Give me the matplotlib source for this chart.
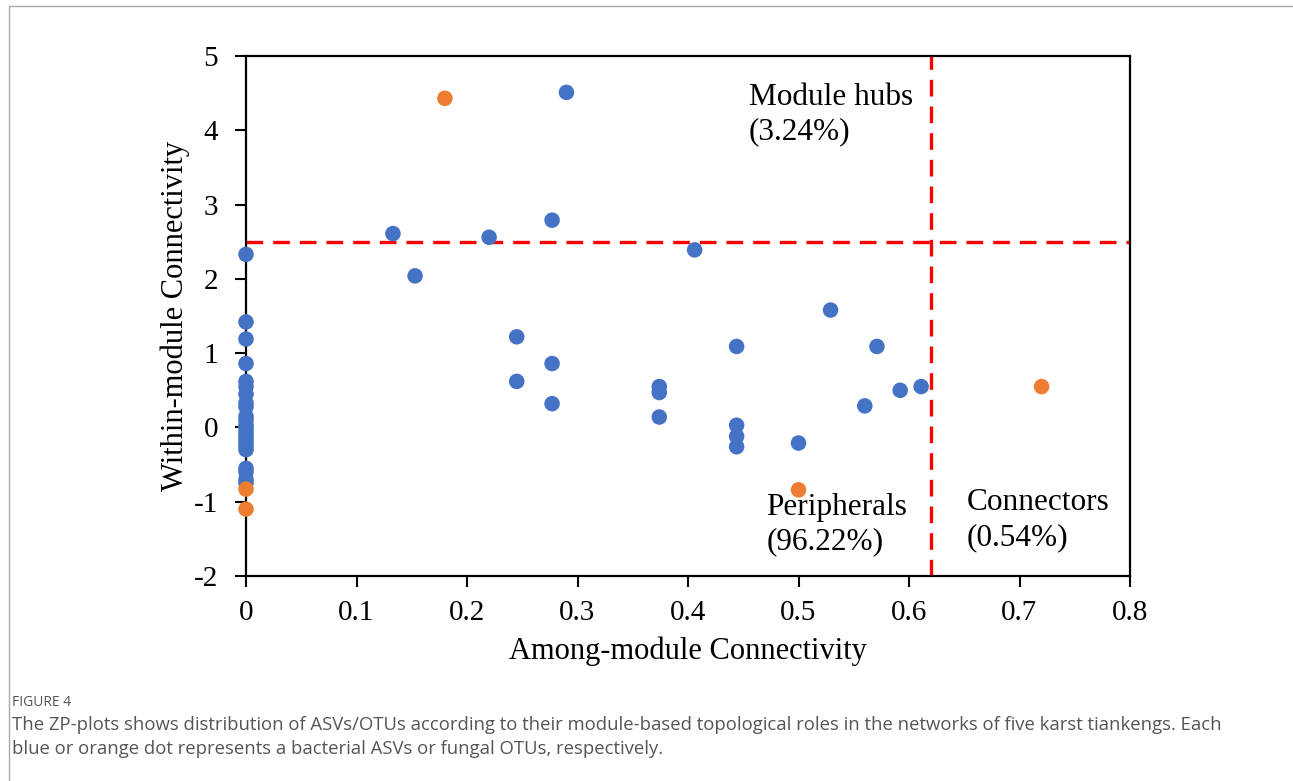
import matplotlib.pyplot as plt
from matplotlib.patches import Rectangle

# -------------------------
# Data
# -------------------------
bac_x = [0] * 23 + [0.133, 0.153, 0.22, 0.277, 0.29, 0.406, 0.245, 0.245,
                    0.277, 0.277, 0.374, 0.374, 0.374, 0.444, 0.444, 0.444,
                    0.444, 0.5, 0.529, 0.571, 0.56, 0.592, 0.611]
bac_y = [2.33, 1.42, 1.19, 0.86, 0.62, 0.55, 0.45, 0.33, 0.28, 0.15, 0.1,
         0.03, 0.0, -0.05, -0.1, -0.15, -0.2, -0.25, -0.3, -0.55, -0.6,
         -0.7, -0.75,
         2.61, 2.04, 2.56, 2.79, 4.51, 2.39, 1.22, 0.62,
         0.86, 0.32, 0.55, 0.47, 0.14, 1.09, 0.03, -0.12,
         -0.26, -0.21, 1.58, 1.09, 0.29, 0.5, 0.55]
fun_x = [0, 0, 0.18, 0.5, 0.72]
fun_y = [-0.83, -1.1, 4.43, -0.84, 0.55]

zi_cut = 2.5
pi_cut = 0.62

xticks = [0, 0.1, 0.2, 0.3, 0.4, 0.5, 0.6, 0.7, 0.8]
xtick_labels = ["0", "0.1", "0.2", "0.3", "0.4", "0.5", "0.6", "0.7", "0.8"]
yticks = [-2, -1, 0, 1, 2, 3, 4, 5]

roles = ["Module hubs\n(3.24%)", "Peripherals\n(96.22%)", "Connectors\n(0.54%)"]
role_x = [0.455, 0.471, 0.652]
role_y = [4.64, -0.88, -0.82]

# -------------------------
# Plot
# -------------------------
plt.rcParams['font.family'] = ['Liberation Serif', 'DejaVu Serif']
plt.rcParams['axes.unicode_minus'] = False

fig = plt.figure(figsize=(12.93, 7.81), dpi=100)
ax = fig.add_axes([246 / 1293, 1 - 576 / 781, (1130 - 246) / 1293, (576 - 56) / 781])

ax.scatter(bac_x, bac_y, s=125, color="#4472C4", zorder=4, edgecolors="none", clip_on=False)
ax.scatter(fun_x, fun_y, s=125, color="#ED7D31", zorder=4, edgecolors="none", clip_on=False)

ax.axhline(zi_cut, color="red", lw=2.4, dashes=(5, 3), zorder=2)
ax.axvline(pi_cut, color="red", lw=2.4, dashes=(5, 3), zorder=2)

for label, tx, ty in zip(roles, role_x, role_y):
    ax.text(tx, ty, label, fontsize=22.5, va="top", ha="left", linespacing=1.25)

ax.set_xlim(0, 0.8)
ax.set_ylim(-2, 5)
ax.set_xticks(xticks)
ax.set_xticklabels(xtick_labels)
ax.set_yticks(yticks)
ax.tick_params(axis="both", labelsize=21, width=1.5, length=8, direction="out")
ax.tick_params(axis="y", pad=12)
ax.tick_params(axis="x", pad=9)
for sp in ax.spines.values():
    sp.set_linewidth(1.6)

ax.set_xlabel("Among-module Connectivity", fontsize=22, labelpad=8)
ax.set_ylabel("Within-module Connectivity", fontsize=22, labelpad=3)

# caption and frame
fig.patches.append(Rectangle((9 / 1293, -0.1), 1.2, 1 - 6 / 781 + 0.1,
                             transform=fig.transFigure, fill=False,
                             edgecolor="#aaaaaa", lw=1))
cap_font = ['Open Sans', 'DejaVu Sans']
fig.text(12 / 1293, 1 - 702 / 781, "FIGURE 4", fontsize=10, color="#555555",
         family=cap_font, va="center")
fig.text(12 / 1293, 1 - 725 / 781,
         "The ZP-plots shows distribution of ASVs/OTUs according to their module-based "
         "topological roles in the networks of five karst tiankengs. Each",
         fontsize=13.3, color="#555555", family=cap_font, va="center")
fig.text(12 / 1293, 1 - 749 / 781,
         "blue or orange dot represents a bacterial ASVs or fungal OTUs, respectively.",
         fontsize=13.3, color="#555555", family=cap_font, va="center")

fig.savefig("out.png", dpi=100)
